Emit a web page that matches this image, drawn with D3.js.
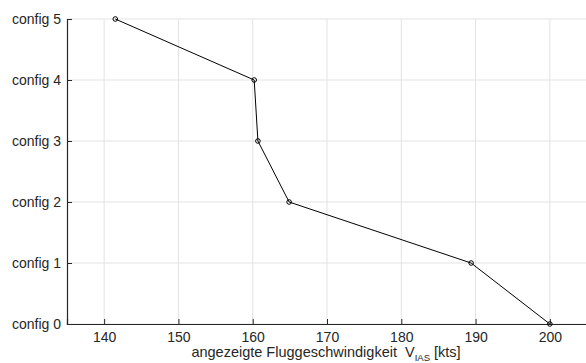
<!DOCTYPE html>
<html><head><meta charset="utf-8">
<script src="https://cdn.jsdelivr.net/npm/d3@7"></script>
<style>body{margin:0;background:#fff}svg{display:block}text{font-family:"Liberation Sans",Arial,sans-serif}</style>
</head><body>
<script>
const categories = ["config 0","config 1","config 2","config 3","config 4","config 5"];
const speeds = [200, 189.4, 164.9, 160.7, 160.2, 141.5];
const xTicks = [140,150,160,170,180,190,200];

const W=586,H=363;
const svg=d3.select("body").append("svg").attr("width",W).attr("height",H);
const x=d3.scaleLinear().domain([135,205]).range([67,587]);
const y=d3.scaleLinear().domain([0,5]).range([324,19]);
const ink="#262626";

// grid
svg.append("g").selectAll("line.v").data(xTicks).join("line")
  .attr("x1",d=>x(d)).attr("x2",d=>x(d)).attr("y1",y(0)).attr("y2",y(5))
  .attr("stroke","#e3e3e3").attr("stroke-width",1);
svg.append("g").selectAll("line.h").data(d3.range(6)).join("line")
  .attr("x1",x(135)).attr("x2",x(205)).attr("y1",d=>y(d)).attr("y2",d=>y(d))
  .attr("stroke","#e3e3e3").attr("stroke-width",1);

// axes
const xa=svg.append("g").attr("transform",`translate(0,${y(0)})`)
  .call(d3.axisBottom(x).tickValues(xTicks).tickSize(-5).tickPadding(8).tickFormat(d3.format("d")));
const ya=svg.append("g").attr("transform",`translate(${x(135)},0)`)
  .call(d3.axisLeft(y).tickValues(d3.range(6)).tickSize(-5).tickPadding(6).tickFormat(i=>categories[i]));
[xa,ya].forEach(a=>{
  a.select(".domain").attr("stroke",ink).attr("stroke-width",1.2);
  a.selectAll(".tick line").attr("stroke",ink);
  a.selectAll(".tick text").attr("fill",ink).attr("font-size",14).attr("font-family","Liberation Sans, Arial, sans-serif");
});

// line
const pts=speeds.map((v,i)=>[v,i]);
svg.append("path").datum(pts)
  .attr("d",d3.line().x(d=>x(d[0])).y(d=>y(d[1])))
  .attr("fill","none").attr("stroke","#000").attr("stroke-width",1);
svg.append("g").selectAll("circle").data(pts).join("circle")
  .attr("cx",d=>x(d[0])).attr("cy",d=>y(d[1])).attr("r",2.3)
  .attr("fill","none").attr("stroke","#000").attr("stroke-width",1);

// x label
const lab=svg.append("text").attr("x",326).attr("y",357).attr("text-anchor","middle")
  .attr("fill",ink).attr("font-size",14.5);
lab.append("tspan").text("angezeigte Fluggeschwindigkeit\u00a0\u00a0V");
lab.append("tspan").attr("dy",3.5).attr("font-size",9.5).text("IAS");
lab.append("tspan").attr("dy",-3.5).text(" [kts]");
</script>
</body></html>
